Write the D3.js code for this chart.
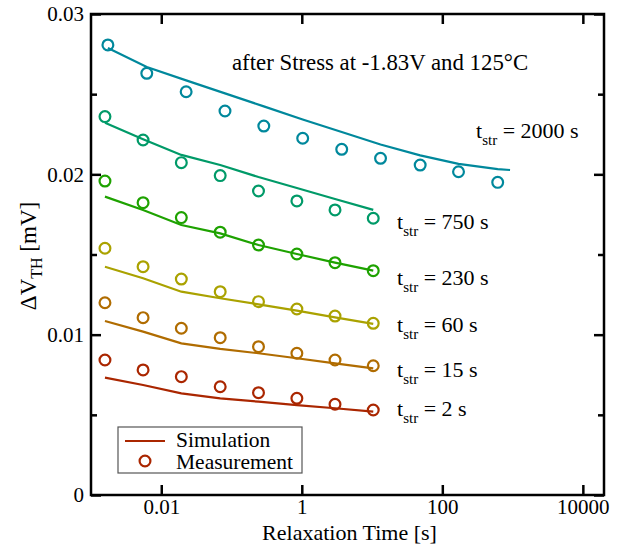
<!DOCTYPE html>
<html><head><meta charset="utf-8">
<script src="https://cdn.jsdelivr.net/npm/d3@7/dist/d3.min.js"></script>
<style>body{margin:0;background:#fff}svg{display:block}text{font-family:"Liberation Serif","Times New Roman",serif;fill:#000}</style>
</head><body>
<script>
// ---- data ----
const tMeasLong = [0.00174, 0.00622, 0.0226, 0.0807, 0.288, 1.03, 3.70, 13.2, 48.4, 170, 614];
const tSimLong  = [0.00174, 0.00622, 0.0226, 0.0807, 0.288, 1.03, 3.70, 13.2, 48.4, 170, 614, 920];
const tMeas     = [0.00158, 0.00551, 0.0193, 0.069, 0.242, 0.851, 2.97, 10.4];

const meas2000 = [0.02807, 0.02630, 0.02515, 0.02395, 0.02301, 0.02225, 0.02156, 0.02100, 0.02058, 0.02016, 0.01950];
const sim2000  = [0.02788, 0.02669, 0.02586, 0.02505, 0.02424, 0.02342, 0.02264, 0.02186, 0.02118, 0.02065, 0.02033, 0.02027];
const meas750  = [0.02360, 0.02214, 0.02073, 0.01992, 0.01896, 0.01834, 0.01778, 0.01726];
const sim750   = [0.02322, 0.02219, 0.02121, 0.02058, 0.01983, 0.01915, 0.01846, 0.01778];
const meas230  = [0.01958, 0.01823, 0.01730, 0.01639, 0.01559, 0.01503, 0.01449, 0.01399];
const sim230   = [0.01861, 0.01778, 0.01684, 0.01632, 0.01559, 0.01503, 0.01449, 0.01399];
const meas60   = [0.01539, 0.01424, 0.01347, 0.01268, 0.01206, 0.01160, 0.01116, 0.01071];
const sim60    = [0.01424, 0.01352, 0.01268, 0.01227, 0.01189, 0.01150, 0.01108, 0.01067];
const meas15   = [0.01199, 0.01106, 0.01040, 0.00981, 0.00925, 0.00884, 0.00842, 0.00806];
const sim15    = [0.01085, 0.01019, 0.00946, 0.00911, 0.00884, 0.00853, 0.00821, 0.00790];
const meas2    = [0.00842, 0.00780, 0.00738, 0.00675, 0.00638, 0.00603, 0.00566, 0.00530];
const sim2     = [0.00732, 0.00686, 0.00634, 0.00603, 0.00582, 0.00561, 0.00541, 0.00520];

const seriesLabels = ["2000 s", "750 s", "230 s", "60 s", "15 s", "2 s"];
const xTickValues = [0.01, 1, 100, 10000];
const xTickLabels = ["0.01", "1", "100", "10000"];
const yTickValues = [0, 0.01, 0.02, 0.03];
const yTickLabels = ["0", "0.01", "0.02", "0.03"];
const yMinorValues = [0.005, 0.015, 0.025];

const series = [
  {label: seriesLabels[0], tm: tMeasLong, ts: tSimLong, m: meas2000, s: sim2000, color: "#00889c"},
  {label: seriesLabels[1], tm: tMeas, ts: tMeas, m: meas750, s: sim750, color: "#009a68"},
  {label: seriesLabels[2], tm: tMeas, ts: tMeas, m: meas230, s: sim230, color: "#1ea200"},
  {label: seriesLabels[3], tm: tMeas, ts: tMeas, m: meas60, s: sim60, color: "#aaa200"},
  {label: seriesLabels[4], tm: tMeas, ts: tMeas, m: meas15, s: sim15, color: "#b06c00"},
  {label: seriesLabels[5], tm: tMeas, ts: tMeas, m: meas2, s: sim2, color: "#aa2600"}
];

// ---- layout ----
const W = 617, H = 546;
const L = 91, R = 604, T = 14, B = 495;
const FONT = '"Liberation Serif","Times New Roman",serif';
const svg = d3.select("body").append("svg").attr("width", W).attr("height", H);

const x = d3.scaleLog().domain([0.001, 20000]).range([L, R]);
const y = d3.scaleLinear().domain([0, 0.03]).range([B, T]);

// series
const line = d3.line().x(d => x(d[0])).y(d => y(d[1]));
series.forEach(sr => {
  svg.append("path")
    .attr("d", line(sr.ts.map((t, i) => [t, sr.s[i]])))
    .attr("fill", "none").attr("stroke", sr.color).attr("stroke-width", 2.2);
  svg.selectAll(null).data(sr.tm.map((t, i) => [t, sr.m[i]])).enter().append("circle")
    .attr("cx", d => x(d[0])).attr("cy", d => y(d[1])).attr("r", 5.4)
    .attr("fill", "none").attr("stroke", sr.color).attr("stroke-width", 2.2);
});

// axes (ticks inward)
const gB = svg.append("g").attr("transform", `translate(0,${B})`)
  .call(d3.axisBottom(x).tickValues(xTickValues).tickSize(-10).tickPadding(4).tickFormat((d, i) => xTickLabels[i]));
const gT = svg.append("g").attr("transform", `translate(0,${T})`)
  .call(d3.axisTop(x).tickValues(xTickValues).tickSize(-10).tickFormat(""));
const gL = svg.append("g").attr("transform", `translate(${L},0)`)
  .call(d3.axisLeft(y).tickValues(yTickValues).tickSize(-10).tickPadding(7).tickFormat((d, i) => yTickLabels[i]));
const gLm = svg.append("g").attr("transform", `translate(${L},0)`)
  .call(d3.axisLeft(y).tickValues(yMinorValues).tickSize(-6).tickFormat(""));
const gR = svg.append("g").attr("transform", `translate(${R},0)`)
  .call(d3.axisRight(y).tickValues(yTickValues).tickSize(-10).tickFormat(""));
const gRm = svg.append("g").attr("transform", `translate(${R},0)`)
  .call(d3.axisRight(y).tickValues(yMinorValues).tickSize(-6).tickFormat(""));
[gB, gT, gL, gLm, gR, gRm].forEach(g => {
  g.select(".domain").remove();
  g.selectAll(".tick line").attr("stroke", "#000").attr("stroke-width", 2.5);
  g.selectAll(".tick text").attr("font-size", 21).attr("font-family", FONT).attr("fill", "#000");
});
svg.append("rect").attr("x", L).attr("y", T).attr("width", R - L).attr("height", B - T)
  .attr("fill", "none").attr("stroke", "#000").attr("stroke-width", 2.5);

// axis titles
svg.append("text").attr("x", (L + R) / 2 + 2).attr("y", 540).attr("text-anchor", "middle")
  .attr("font-size", 22).text("Relaxation Time [s]");
const yl = svg.append("text").attr("transform", "translate(36,256) rotate(-90)")
  .attr("text-anchor", "middle").attr("font-size", 23);
yl.append("tspan").text("ΔV");
yl.append("tspan").attr("font-size", 16).attr("dy", 6).text("TH");
yl.append("tspan").attr("dy", -6).text(" [mV]");

// annotation
svg.append("text").attr("x", 232).attr("y", 70).attr("font-size", 22.8)
  .text("after Stress at -1.83V and 125°C");

// series labels
const labelPos = [[476, 138], [397, 229], [397, 285], [397, 332], [397, 377], [397, 416]];
series.forEach((sr, i) => {
  const t = svg.append("text").attr("x", labelPos[i][0]).attr("y", labelPos[i][1]).attr("font-size", 22);
  t.append("tspan").text("t");
  t.append("tspan").attr("font-size", 15).attr("dy", 7).text("str");
  t.append("tspan").attr("dy", -7).text(" = " + sr.label);
});

// legend
const lg = svg.append("g");
lg.append("rect").attr("x", 118).attr("y", 427).attr("width", 184).attr("height", 46)
  .attr("fill", "#fff").attr("stroke", "#555").attr("stroke-width", 1.2);
lg.append("line").attr("x1", 125).attr("x2", 165).attr("y1", 441).attr("y2", 441)
  .attr("stroke", series[5].color).attr("stroke-width", 2.2);
lg.append("circle").attr("cx", 145).attr("cy", 461).attr("r", 5.4)
  .attr("fill", "none").attr("stroke", series[5].color).attr("stroke-width", 2.2);
lg.append("text").attr("x", 176).attr("y", 447).attr("font-size", 21.5).text("Simulation");
lg.append("text").attr("x", 176).attr("y", 469).attr("font-size", 21.5).text("Measurement");
</script>
</body></html>
